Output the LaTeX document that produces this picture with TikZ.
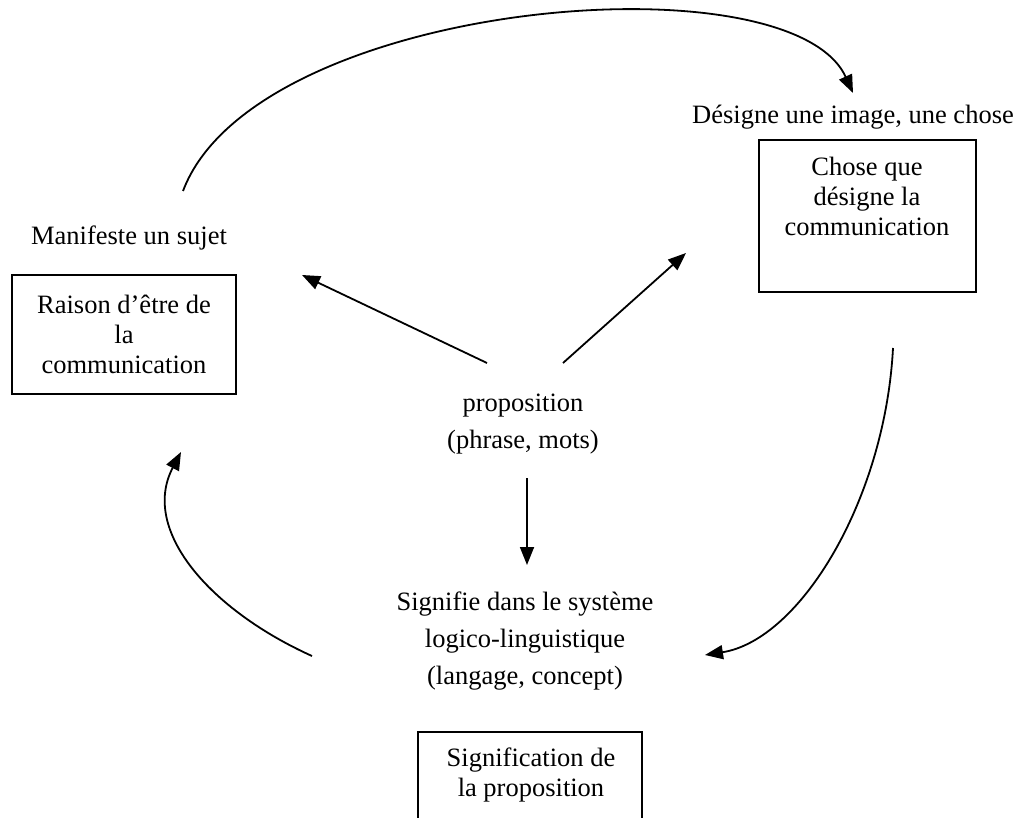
\documentclass[tikz,border=0pt]{standalone}
\usepackage{fontspec}
\setmainfont{Liberation Serif}
\usetikzlibrary{arrows.meta}
\begin{document}
\begin{tikzpicture}[x=0.5pt,y=-0.5pt,
  every node/.style={font=\fontsize{13.25}{15}\selectfont, inner sep=0pt, outer sep=0pt},
  boxtxt/.style={align=center},
  freetxt/.style={align=center, font=\fontsize{13.25}{18.5}\selectfont},
  frame/.style={draw, line width=0.9pt, minimum width=#1},
  conn/.style={line width=0.9pt, -{Triangle[length=9pt,width=7pt]}}]
\clip (0,0) rectangle (1017,818);
\fill[white] (0,0) rectangle (1017,818);

% texts
\node (manif) at (129,238) {Manifeste un sujet};
\node[frame=112pt, minimum height=59.5pt, boxtxt] (raison) at (124,334.5) {Raison d’être de\\la\\communication};
\node (designe) at (853,117) {Désigne une image, une chose};
\node[frame=108.5pt, minimum height=76pt] (chose) at (867.5,216) {};
\node[boxtxt] (chosetxt) at (867,196) {Chose que\\désigne la\\communication};
\node[freetxt] (prop) at (523,424) {proposition\\(phrase, mots)};
\node[freetxt] (signifie) at (525,641) {Signifie dans le système\\logico-linguistique\\(langage, concept)};
\node[frame=112pt, minimum height=50pt] (signbox) at (530,782) {};
\node[boxtxt] (signtxt) at (531,775) {Signification de\\la proposition};

% connector end points
\coordinate (tA) at (183,191);
\coordinate (tB) at (853,93);
\coordinate (ulA) at (487,363);
\coordinate (ulB) at (302,275);
\coordinate (urA) at (563,363);
\coordinate (urB) at (686,253);
\coordinate (dA) at (527,478);
\coordinate (dB) at (527,565);
\coordinate (rA) at (893,348);
\coordinate (rB) at (705,655);
\coordinate (lA) at (312,656);
\coordinate (lB) at (181,452);

\draw[conn] (tA) .. controls (255,0) and (790,-45) .. (tB);
\draw[conn] (ulA) -- (ulB);
\draw[conn] (urA) -- (urB);
\draw[conn] (dA) -- (dB);
\draw[conn] (rA) .. controls (885,500) and (800,640) .. (rB);
\draw[conn] (lA) .. controls (210,610) and (140,530) .. (lB);
\end{tikzpicture}
\end{document}
